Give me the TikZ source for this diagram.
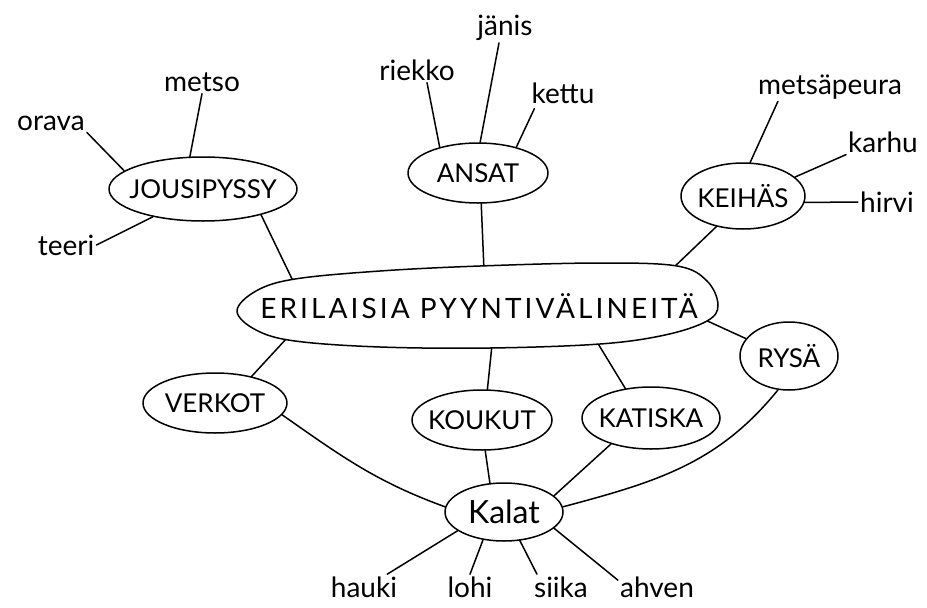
\documentclass[tikz,border=0pt]{standalone}
\usepackage{fontspec}
\setmainfont{Lato}
\usetikzlibrary{shapes.geometric,calc}
\pgfdeclarelayer{paper}
\pgfdeclarelayer{back}
\pgfsetlayers{paper,back,main}

\tikzset{
  ink/.style={line width=1.5pt, line cap=round, line join=round},
  oval/.style={ink, draw, ellipse, fill=white, inner sep=0pt,
    font=\fontsize{26}{28}\selectfont},
  word/.style={inner sep=2pt, font=\fontsize{28}{30}\selectfont},
  fish/.style={word, anchor=base},
  link/.style={ink},
}
% zero-width label so the oval keeps its given size
\newcommand{\ovaltext}[1]{\makebox[0pt]{#1}}

\begin{document}
\begin{tikzpicture}[x=1pt,y=1pt]
\begin{pgfonlayer}{paper}
  \fill[white] (0,0) rectangle (927,-608);
\end{pgfonlayer}
\useasboundingbox (0,0) rectangle (927,-608);

% central outline, drawn by hand as a smooth closed curve
\draw[ink, fill=white] plot[smooth cycle, tension=0.6] coordinates {
  (237,-311) (256,-291) (295,-279) (380,-271) (480,-266) (600,-263)
  (677,-266) (707,-281) (718,-305) (707,-321) (665,-335) (600,-344)
  (490,-348) (380,-347) (295,-341) (256,-330)};
\node[font=\fontsize{28}{30}\selectfont\addfontfeature{LetterSpace=11}]
  (centre) at (479,-306) {ERILAISIA PYYNTIVÄLINEITÄ};

% ovals
\node[oval, minimum width=188, minimum height=64] (jous)    at (203,-189) {\ovaltext{JOUSIPYSSY}};
\node[oval, minimum width=140, minimum height=60] (ansat)   at (478,-173) {\ovaltext{ANSAT}};
\node[oval, minimum width=124, minimum height=66] (keihas)  at (743,-196) {\ovaltext{KEIHÄS}};
\node[oval, minimum width=98,  minimum height=68] (rysa)    at (789,-356) {\ovaltext{RYSÄ}};
\node[oval, minimum width=144, minimum height=60] (verkot)  at (215,-403) {\ovaltext{VERKOT}};
\node[oval, minimum width=140, minimum height=60] (koukut)  at (482,-420) {\ovaltext{KOUKUT}};
\node[oval, minimum width=138, minimum height=62] (katiska) at (651,-418) {\ovaltext{KATISKA}};
\node[oval, minimum width=118, minimum height=58, font=\fontsize{32}{34}\selectfont]
  (kalat) at (504,-512) {\ovaltext{Kalat}};

% single words
\node[word] (orava)  at (51,-123)  {orava};
\node[word] (metso)  at (202,-82)  {metso};
\node[word] (teeri)  at (66,-245)  {teeri};
\node[word] (riekko) at (417,-70)  {riekko};
\node[word] (janis)  at (505,-28)  {jänis};
\node[word] (kettu)  at (563,-93)  {kettu};
\node[word] (peura)  at (830,-87)  {metsäpeura};
\node[word] (karhu)  at (883,-142) {karhu};
\node[word] (hirvi)  at (887,-202) {hirvi};
\node[fish] (hauki)  at (364,-597) {hauki};
\node[fish] (lohi)   at (470,-597) {lohi};
\node[fish] (siika)  at (561,-597) {siika};
\node[fish] (ahven)  at (657,-597) {ahven};

\begin{pgfonlayer}{back}
  % branches into the central outline
  \draw[link] (jous.-24)    -- ($(centre)+(-186,25)$);
  \draw[link] (ansat.-84)   -- ($(centre)+(5,36)$);
  \draw[link] (keihas.229)  -- ($(centre)+(192,36)$);
  \draw[link] (rysa.158)    -- ($(centre)+(224,-13)$);
  \draw[link] (verkot.36)   -- ($(centre)+(-192,-32)$);
  \draw[link] (koukut.80)   -- ($(centre)+(13,-39)$);
  \draw[link] (katiska.131) -- ($(centre)+(118,-36)$);

  % fishing gear to fish
  \draw[link] (verkot.-10) to[out=-35, in=160] (kalat.175);
  \draw[link] (koukut.-84) -- (kalat.116);
  \draw[link] (katiska.213) -- (kalat.18);
  \draw[link] (rysa.252) to[out=231, in=15] (kalat.5);

  % game for each tool
  \draw[link] (orava.south east) -- (jous.167);
  \draw[link] (metso.south) -- (jous.112);
  \draw[link] (teeri.east) -- (jous.209);
  \draw[link] ($(riekko.south)+(10,0)$) -- (ansat.146);
  \draw[link] ($(janis.south)+(-6,0)$) -- (ansat.86);
  \draw[link] ($(kettu.south west)+(5,-3)$) -- (ansat.34);
  \draw[link] ($(peura.south west)+(22,0)$) -- (keihas.78);
  \draw[link] (karhu.south west) -- (keihas.20);
  \draw[link] (hirvi.west) -- (keihas.-6);

  % fish species
  \draw[link] ($(hauki.north east)+(-12,0)$) -- (kalat.202);
  \draw[link] (lohi.north) -- (kalat.233);
  \draw[link] ($(siika.north west)+(5,0)$) -- (kalat.299);
  \draw[link] ($(ahven.north west)+(0,-6)$) -- (kalat.342);
\end{pgfonlayer}
\end{tikzpicture}
\end{document}
